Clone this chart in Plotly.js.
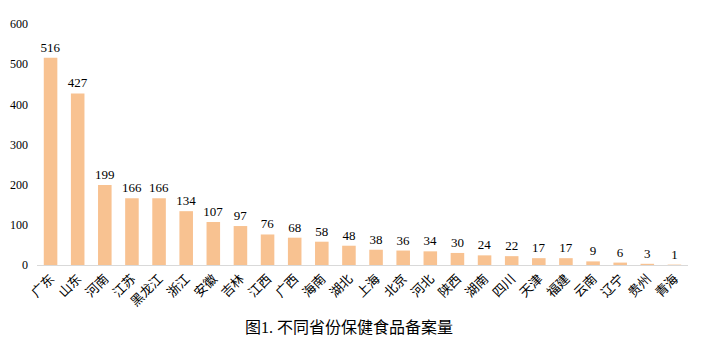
<!DOCTYPE html>
<html><head><meta charset="utf-8">
<script src="https://cdn.plot.ly/plotly-3.0.1.min.js"></script>
<style>body{margin:0;background:#fff}#c{width:708px;height:353px}</style>
</head><body><div id="c"></div>
<script>
const provinces = ["广东","山东","河南","江苏","黑龙江","浙江","安徽","吉林","江西","广西","海南","湖北","上海","北京","河北","陕西","湖南","四川","天津","福建","云南","辽宁","贵州","青海"];
const counts = [516,427,199,166,166,134,107,97,76,68,58,48,38,36,34,30,24,22,17,17,9,6,3,1];
const yTicks = [0,100,200,300,400,500,600];
const chartTitle = "图1. 不同省份保健食品备案量";

Plotly.newPlot('c', [{
  type:'bar', x:provinces, y:counts,
  marker:{color:'#F8C291'},
  text:counts.map(String), textposition:'outside', cliponaxis:false, constraintext:'none',
  textfont:{family:'Liberation Serif, Times New Roman, serif', size:13, color:'#000'},
  hoverinfo:'none'
}], {
  width:708, height:353,
  margin:{l:37, r:20, t:24, b:88},
  bargap:0.5,
  showlegend:false,
  paper_bgcolor:'#fff', plot_bgcolor:'#fff',
  xaxis:{tickangle:-45, tickfont:{family:'Noto Sans CJK SC, sans-serif', size:13, color:'#000'},
    showline:true, linecolor:'#d9d9d9', linewidth:1, ticks:'', showgrid:false, zeroline:false, fixedrange:true},
  yaxis:{range:[0,600], tickvals:yTicks, ticktext:yTicks.map(String), showgrid:false, zeroline:false,
    showline:false, ticks:'', ticklabelstandoff:8,
    tickfont:{family:'Liberation Serif, Times New Roman, serif', size:12, color:'#000'}, fixedrange:true},
  annotations:[{text:chartTitle, xref:'paper', yref:'paper', x:0.48, y:0, yshift:-62, yanchor:'middle', showarrow:false,
    font:{family:'Liberation Serif, Noto Sans CJK SC, serif', size:16, color:'#000'}}]
}, {displayModeBar:false, staticPlot:true});
</script></body></html>
